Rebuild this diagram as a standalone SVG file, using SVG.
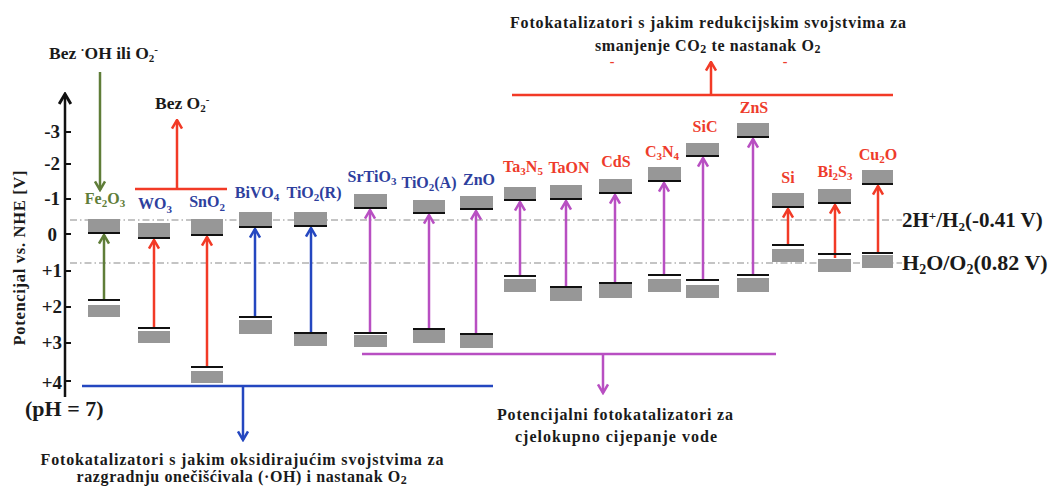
<svg xmlns="http://www.w3.org/2000/svg" width="1054" height="487" viewBox="0 0 1054 487">
<style>
text{font-family:"Liberation Serif","Times New Roman",serif;font-weight:bold}
.lbl{font-size:16px;text-anchor:middle}
.blue{fill:#2e3f9e}
.red{fill:#ee3b2b}
.green{fill:#5f7d38}
.cap{font-size:16px;text-anchor:middle;fill:#1a1a1a}
.tick{font-size:19px;text-anchor:end;fill:#1a1a1a}
.band{fill:#979797}
.edge{stroke:#111;stroke-width:2}
.ref{stroke:#8a8a8a;stroke-width:1.2;stroke-dasharray:7 3 1.5 3;fill:none}
.ar{fill:none;stroke-width:2.5}
.ar-r{stroke:#f23a26}
.ar-b{stroke:#2447c0}
.ar-g{stroke:#5f7d38}
.ar-m{stroke:#b84fc2}
.ar-k{stroke:#111}
</style>
<defs>
<marker id="mr" viewBox="0 0 12 12" refX="10.5" refY="6" markerWidth="12" markerHeight="12" markerUnits="userSpaceOnUse" orient="auto"><path d="M2,1 L10.5,6 L2,11" fill="none" stroke="#f23a26" stroke-width="2.5"/></marker>
<marker id="mb" viewBox="0 0 12 12" refX="10.5" refY="6" markerWidth="12" markerHeight="12" markerUnits="userSpaceOnUse" orient="auto"><path d="M2,1 L10.5,6 L2,11" fill="none" stroke="#2447c0" stroke-width="2.5"/></marker>
<marker id="mg" viewBox="0 0 12 12" refX="10.5" refY="6" markerWidth="12" markerHeight="12" markerUnits="userSpaceOnUse" orient="auto"><path d="M2,1 L10.5,6 L2,11" fill="none" stroke="#5f7d38" stroke-width="2.5"/></marker>
<marker id="mm" viewBox="0 0 12 12" refX="10.5" refY="6" markerWidth="12" markerHeight="12" markerUnits="userSpaceOnUse" orient="auto"><path d="M2,1 L10.5,6 L2,11" fill="none" stroke="#b84fc2" stroke-width="2.5"/></marker>
<marker id="mk" viewBox="0 0 12 12" refX="10.5" refY="6" markerWidth="14" markerHeight="14" markerUnits="userSpaceOnUse" orient="auto"><path d="M2,1 L10.5,6 L2,11" fill="none" stroke="#111" stroke-width="2.5"/></marker>
</defs>
<rect width="1054" height="487" fill="#fff"/>

<g id="axis">
<line x1="65" y1="397" x2="65" y2="94" class="ar ar-k" marker-end="url(#mk)"/>
<g stroke="#111" stroke-width="2">
<line x1="65" y1="132" x2="71" y2="132"/><line x1="65" y1="164" x2="71" y2="164"/><line x1="65" y1="199" x2="71" y2="199"/><line x1="65" y1="234" x2="71" y2="234"/><line x1="65" y1="271" x2="71" y2="271"/><line x1="65" y1="307" x2="71" y2="307"/><line x1="65" y1="343" x2="71" y2="343"/><line x1="65" y1="381" x2="71" y2="381"/>
</g>
<text class="tick" x="60" y="138">-3</text>
<text class="tick" x="60" y="170">-2</text>
<text class="tick" x="60" y="205">-1</text>
<text class="tick" x="57" y="241">0</text>
<text class="tick" x="62" y="277">+1</text>
<text class="tick" x="62" y="313">+2</text>
<text class="tick" x="62" y="349">+3</text>
<text class="tick" x="62" y="389">+4</text>
<text x="25" y="258" font-size="16.5" text-anchor="middle" fill="#1a1a1a" transform="rotate(-90 25 258)" textLength="175" lengthAdjust="spacing">Potencijal vs. NHE [V]</text>
<text x="25" y="416" font-size="22" fill="#1a1a1a">(pH = 7)</text>
</g>

<g id="reference-levels">
<line x1="70" y1="220" x2="902" y2="220" class="ref"/>
<line x1="70" y1="263" x2="902" y2="263" class="ref"/>
<text x="902" y="227" font-size="21" fill="#1a1a1a">2H<tspan dy="-7" font-size="13">+</tspan><tspan dy="7">/H</tspan><tspan dy="4" font-size="13">2</tspan><tspan dy="-4">(-0.41 V)</tspan></text>
<text x="902" y="270" font-size="22" fill="#1a1a1a">H<tspan dy="4" font-size="14">2</tspan><tspan dy="-4">O/O</tspan><tspan dy="4" font-size="14">2</tspan><tspan dy="-4">(0.82 V)</tspan></text>
</g>

<g id="connectors">
<line x1="104" y1="300" x2="104" y2="235" class="ar ar-g" marker-end="url(#mg)"/>
<line x1="154" y1="328" x2="154" y2="240" class="ar ar-r" marker-end="url(#mr)"/>
<line x1="207" y1="367" x2="207" y2="237" class="ar ar-r" marker-end="url(#mr)"/>
<line x1="255" y1="317" x2="255" y2="229" class="ar ar-b" marker-end="url(#mb)"/>
<line x1="311" y1="333" x2="311" y2="228" class="ar ar-b" marker-end="url(#mb)"/>
<line x1="370" y1="333" x2="370" y2="210" class="ar ar-m" marker-end="url(#mm)"/>
<line x1="429" y1="329" x2="429" y2="215" class="ar ar-m" marker-end="url(#mm)"/>
<line x1="476" y1="334" x2="476" y2="211" class="ar ar-m" marker-end="url(#mm)"/>
<line x1="520" y1="276" x2="520" y2="202" class="ar ar-m" marker-end="url(#mm)"/>
<line x1="566" y1="287" x2="566" y2="201" class="ar ar-m" marker-end="url(#mm)"/>
<line x1="615" y1="283" x2="615" y2="195" class="ar ar-m" marker-end="url(#mm)"/>
<line x1="664" y1="275" x2="664" y2="183" class="ar ar-m" marker-end="url(#mm)"/>
<line x1="703" y1="280" x2="703" y2="158" class="ar ar-m" marker-end="url(#mm)"/>
<line x1="753" y1="275" x2="753" y2="139" class="ar ar-m" marker-end="url(#mm)"/>
<line x1="788" y1="245" x2="788" y2="209" class="ar ar-r" marker-end="url(#mr)"/>
<line x1="835" y1="258" x2="835" y2="205" class="ar ar-r" marker-end="url(#mr)"/>
<line x1="878" y1="253" x2="878" y2="186" class="ar ar-r" marker-end="url(#mr)"/>
<line x1="100" y1="72" x2="100" y2="190" class="ar ar-g" marker-end="url(#mg)"/>
<line x1="135" y1="189" x2="227" y2="189" class="ar ar-r"/>
<line x1="177" y1="189" x2="177" y2="120" class="ar ar-r" marker-end="url(#mr)"/>
<line x1="512" y1="95" x2="893" y2="95" class="ar ar-r"/>
<line x1="711" y1="95" x2="711" y2="62" class="ar ar-r" marker-end="url(#mr)"/>
<line x1="82" y1="386" x2="493" y2="386" class="ar ar-b"/>
<line x1="243" y1="386" x2="243" y2="440" class="ar ar-b" marker-end="url(#mb)"/>
<line x1="362" y1="354" x2="776" y2="354" class="ar ar-m"/>
<line x1="603" y1="354" x2="603" y2="393" class="ar ar-m" marker-end="url(#mm)"/>
</g>

<g id="Fe2O3"><rect class="band" x="88" y="219" width="32" height="14"/><line class="edge" x1="88" y1="233" x2="120" y2="233"/><line class="edge" x1="88" y1="300" x2="120" y2="300"/><rect class="band" x="88" y="305" width="32" height="12"/>
<text class="lbl green" x="105" y="204">Fe<tspan dy="3" font-size="11">2</tspan><tspan dy="-3">O</tspan><tspan dy="3" font-size="11">3</tspan></text></g>
<g id="WO3"><rect class="band" x="138" y="223" width="32" height="15"/><line class="edge" x1="138" y1="238" x2="170" y2="238"/><line class="edge" x1="138" y1="328" x2="170" y2="328"/><rect class="band" x="138" y="331" width="32" height="12"/>
<text class="lbl blue" x="155" y="209">WO<tspan dy="4" font-size="11">3</tspan></text></g>
<g id="SnO2"><rect class="band" x="191" y="219" width="32" height="16"/><line class="edge" x1="191" y1="235" x2="223" y2="235"/><line class="edge" x1="191" y1="367" x2="223" y2="367"/><rect class="band" x="191" y="371" width="32" height="12"/>
<text class="lbl blue" x="207" y="207">SnO<tspan dy="4" font-size="11">2</tspan></text></g>
<g id="BiVO4"><rect class="band" x="239" y="212" width="33" height="15"/><line class="edge" x1="239" y1="227" x2="272" y2="227"/><line class="edge" x1="239" y1="317" x2="272" y2="317"/><rect class="band" x="239" y="320" width="33" height="14"/>
<text class="lbl blue" x="257" y="198">BiVO<tspan dy="3" font-size="11">4</tspan></text></g>
<g id="TiO2R"><rect class="band" x="294" y="212" width="33" height="14"/><line class="edge" x1="294" y1="226" x2="327" y2="226"/><line class="edge" x1="294" y1="333" x2="327" y2="333"/><rect class="band" x="294" y="334" width="33" height="12"/>
<text class="lbl blue" x="314" y="198">TiO<tspan dy="3" font-size="11">2</tspan><tspan dy="-3">(R)</tspan></text></g>
<g id="SrTiO3"><rect class="band" x="354" y="194" width="33" height="14"/><line class="edge" x1="354" y1="208" x2="387" y2="208"/><line class="edge" x1="354" y1="333" x2="387" y2="333"/><rect class="band" x="354" y="335" width="33" height="12"/>
<text class="lbl blue" x="372" y="182">SrTiO<tspan dy="3" font-size="11">3</tspan></text></g>
<g id="TiO2A"><rect class="band" x="413" y="200" width="32" height="13"/><line class="edge" x1="413" y1="213" x2="445" y2="213"/><line class="edge" x1="413" y1="329" x2="445" y2="329"/><rect class="band" x="413" y="330" width="32" height="13"/>
<text class="lbl blue" x="429" y="188">TiO<tspan dy="3" font-size="11">2</tspan><tspan dy="-3">(A)</tspan></text></g>
<g id="ZnO"><rect class="band" x="460" y="196" width="33" height="13"/><line class="edge" x1="460" y1="209" x2="493" y2="209"/><line class="edge" x1="460" y1="334" x2="493" y2="334"/><rect class="band" x="460" y="335" width="33" height="13"/>
<text class="lbl blue" x="479" y="185">ZnO</text></g>
<g id="Ta3N5"><rect class="band" x="504" y="187" width="32" height="13"/><line class="edge" x1="504" y1="200" x2="536" y2="200"/><line class="edge" x1="504" y1="276" x2="536" y2="276"/><rect class="band" x="504" y="279" width="32" height="13"/>
<text class="lbl red" x="523" y="172">Ta<tspan dy="3" font-size="11">3</tspan><tspan dy="-3">N</tspan><tspan dy="3" font-size="11">5</tspan></text></g>
<g id="TaON"><rect class="band" x="550" y="185" width="32" height="14"/><line class="edge" x1="550" y1="199" x2="582" y2="199"/><line class="edge" x1="550" y1="287" x2="582" y2="287"/><rect class="band" x="550" y="288" width="32" height="13"/>
<text class="lbl red" x="569" y="173">TaON</text></g>
<g id="CdS"><rect class="band" x="599" y="179" width="33" height="14"/><line class="edge" x1="599" y1="193" x2="632" y2="193"/><line class="edge" x1="599" y1="283" x2="632" y2="283"/><rect class="band" x="599" y="284" width="33" height="14"/>
<text class="lbl red" x="616" y="167">CdS</text></g>
<g id="C3N4"><rect class="band" x="648" y="167" width="33" height="14"/><line class="edge" x1="648" y1="181" x2="681" y2="181"/><line class="edge" x1="648" y1="275" x2="681" y2="275"/><rect class="band" x="648" y="279" width="33" height="13"/>
<text class="lbl red" x="662" y="157">C<tspan dy="3" font-size="11">3</tspan><tspan dy="-3">N</tspan><tspan dy="3" font-size="11">4</tspan></text></g>
<g id="SiC"><rect class="band" x="686" y="143" width="33" height="13"/><line class="edge" x1="686" y1="156" x2="719" y2="156"/><line class="edge" x1="686" y1="280" x2="719" y2="280"/><rect class="band" x="686" y="285" width="33" height="13"/>
<text class="lbl red" x="705" y="132">SiC</text></g>
<g id="ZnS"><rect class="band" x="737" y="123" width="32" height="14"/><line class="edge" x1="737" y1="137" x2="769" y2="137"/><line class="edge" x1="737" y1="275" x2="769" y2="275"/><rect class="band" x="737" y="278" width="32" height="14"/>
<text class="lbl red" x="754" y="113">ZnS</text></g>
<g id="Si"><rect class="band" x="772" y="193" width="32" height="14"/><line class="edge" x1="772" y1="207" x2="804" y2="207"/><line class="edge" x1="772" y1="245" x2="804" y2="245"/><rect class="band" x="772" y="249" width="32" height="13"/>
<text class="lbl red" x="788" y="183">Si</text></g>
<g id="Bi2S3"><rect class="band" x="818" y="189" width="33" height="14"/><line class="edge" x1="818" y1="203" x2="851" y2="203"/><line class="edge" x1="818" y1="254" x2="851" y2="254"/><rect class="band" x="818" y="259" width="33" height="13"/>
<text class="lbl red" x="835" y="177">Bi<tspan dy="3" font-size="11">2</tspan><tspan dy="-3">S</tspan><tspan dy="3" font-size="11">3</tspan></text></g>
<g id="Cu2O"><rect class="band" x="862" y="170" width="31" height="14"/><line class="edge" x1="862" y1="184" x2="893" y2="184"/><line class="edge" x1="862" y1="253" x2="893" y2="253"/><rect class="band" x="862" y="255" width="31" height="13"/>
<text class="lbl red" x="878" y="160">Cu<tspan dy="3" font-size="11">2</tspan><tspan dy="-3">O</tspan></text></g>

<g id="no-OH-label"><text x="49" y="59" font-size="17.5" fill="#1a1a1a">Bez <tspan dy="-5" font-size="12">·</tspan><tspan dy="5">OH ili O</tspan><tspan dy="3" font-size="11">2</tspan><tspan dy="-9" font-size="11">-</tspan></text></g>
<g id="no-O2-label"><text x="155" y="109" font-size="17.5" fill="#1a1a1a">Bez O<tspan dy="3" font-size="11">2</tspan><tspan dy="-9" font-size="11">-</tspan></text></g>
<g id="reduction-label">
<text class="cap" x="708" y="28" textLength="396" lengthAdjust="spacing">Fotokatalizatori s jakim redukcijskim svojstvima za</text>
<text class="cap" x="708" y="51" letter-spacing="0.6">smanjenje CO<tspan dy="2" font-size="12">2</tspan><tspan dy="-2"> te nastanak O</tspan><tspan dy="2" font-size="12">2</tspan></text>
<text x="612" y="66" font-size="14" fill="#ee3b2b" text-anchor="middle">-</text>
<text x="785" y="66" font-size="14" fill="#ee3b2b" text-anchor="middle">-</text>
</g>
<g id="water-splitting-label">
<text class="cap" x="615" y="420" textLength="236" lengthAdjust="spacing">Potencijalni fotokatalizatori za</text>
<text class="cap" x="616" y="442" textLength="202" lengthAdjust="spacing">cjelokupno cijepanje vode</text>
</g>
<g id="oxidation-label">
<text class="cap" x="242" y="465" textLength="403" lengthAdjust="spacing">Fotokatalizatori s jakim oksidirajućim svojstvima za</text>
<text class="cap" x="242" y="482" letter-spacing="0.6">razgradnju onečišćivala (·OH) i nastanak O<tspan dy="2" font-size="12">2</tspan></text>
</g>
</svg>
